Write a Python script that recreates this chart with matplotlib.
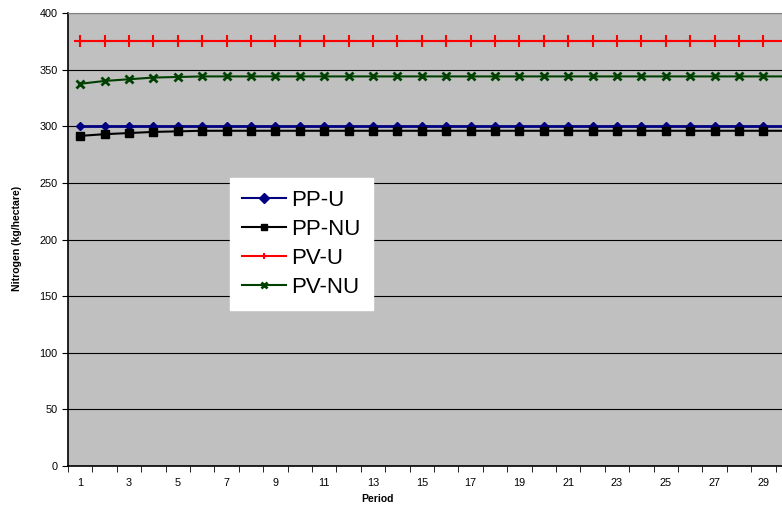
import matplotlib
matplotlib.use('Agg')
import matplotlib.pyplot as plt

plt.rcParams['font.family'] = ['Liberation Sans', 'DejaVu Sans']

periods = list(range(1, 31))
pp_u = [300] * 30
pp_nu = [291.5, 293, 294, 295, 295.5] + [296] * 25
pv_u = [375] * 30
pv_nu = [337.5, 340, 341.5, 343, 343.5] + [344] * 25

fig = plt.figure(figsize=(7.82, 5.07), dpi=100)
ax = fig.add_axes([68 / 782, 41 / 507, 732 / 782, 453 / 507])
ax.set_facecolor('#c0c0c0')

ax.plot(periods, pp_u, color='#000080', marker='D', markersize=4.5, lw=2, label='PP-U')
ax.plot(periods, pp_nu, color='black', marker='s', markersize=6, lw=1.5, label='PP-NU')
ax.plot(periods, pv_u, color='#ff0000', marker='+', markersize=8, mew=1.5, lw=1.5, label='PV-U')
ax.plot(periods, pv_nu, color='#004000', marker='x', markersize=6, mew=2, lw=1.5, label='PV-NU')

ax.set_xlim(0.5, 30.5)
ax.set_ylim(0, 400)
ax.set_yticks(range(0, 401, 50))
ax.yaxis.grid(True, color='black', lw=0.8)
ax.set_axisbelow(True)

# labels on odd periods, ticks between categories
ax.set_xticks(periods[::2])
ax.set_xticks([p + 0.5 for p in range(0, 31)], minor=True)
ax.tick_params(axis='x', which='major', length=0, labelsize=7.8, pad=9)
ax.tick_params(axis='x', which='minor', length=4, direction='out')
ax.tick_params(axis='y', labelsize=7.8, length=4, direction='out')

for side in ['top', 'right']:
    ax.spines[side].set_color('#808080')
ax.spines['left'].set_linewidth(1.2)
ax.spines['bottom'].set_linewidth(1.2)

ax.set_xlabel('Period', fontsize=7.5, fontweight='bold')
ax.xaxis.set_label_coords((378 - 68) / 732, -28 / 453)
ax.set_ylabel('Nitrogen (kg/hectare)', fontsize=7.6, fontweight='bold')
ax.yaxis.set_label_coords(-46 / 732, (466 - 238) / 453)

leg = fig.legend(loc='upper left', bbox_to_anchor=(230 / 782, 1 - 178 / 507),
                 fontsize=16, frameon=True, fancybox=False, framealpha=1,
                 edgecolor='white', borderpad=0.55, labelspacing=0.36,
                 handlelength=1.95, handletextpad=0.25, borderaxespad=0)
for line in leg.get_lines():
    line.set_markersize(5)
    line.set_linewidth(1.5)

fig.savefig('out.png', dpi=100)
